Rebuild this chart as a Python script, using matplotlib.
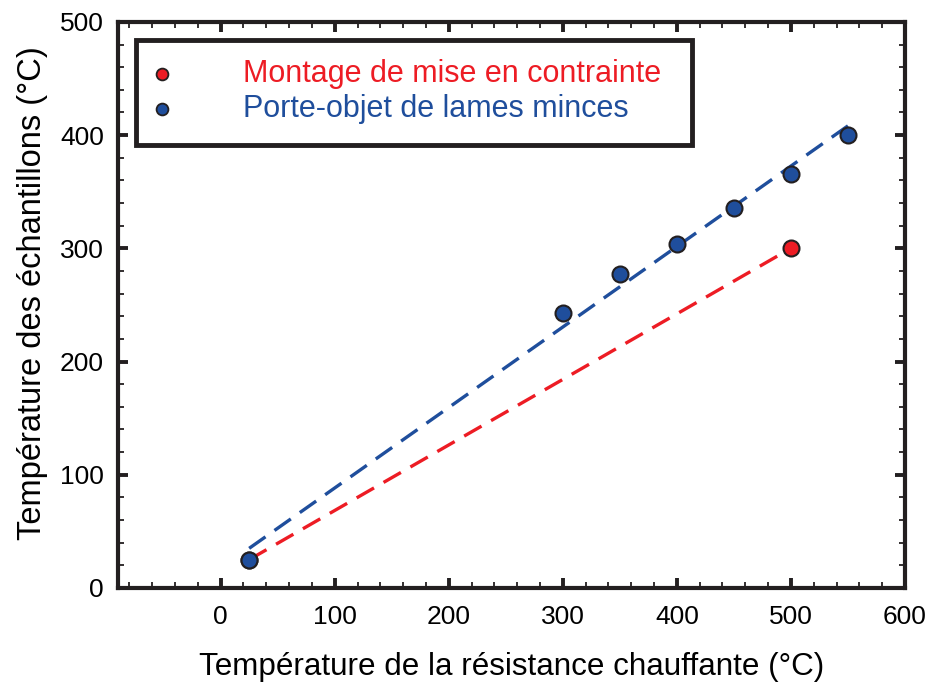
import numpy as np
import matplotlib.pyplot as plt
from matplotlib.patches import Rectangle
from matplotlib.ticker import MultipleLocator

plt.rcParams['font.family'] = ['Liberation Sans', 'DejaVu Sans']

# data
x_montage = [25, 500]
y_montage = [25, 300]
x_porte = [25, 300, 350, 400, 450, 500, 550]
y_porte = [25, 243, 277, 304, 336, 366, 400]
labels = ["Montage de mise en contrainte", "Porte-objet de lames minces"]

red = "#ED1C24"
blue = "#1F4E9C"
edge = "#231F20"

fig = plt.figure(figsize=(9.32, 6.84), dpi=100)
ax = fig.add_axes([0.1266, 0.1404, 0.8444, 0.8276])

# fitted dashed lines
p_r = np.polyfit(x_montage, y_montage, 1)
xr = np.array([min(x_montage), max(x_montage)])
ax.plot(xr, np.polyval(p_r, xr), color=red, lw=2.4, dashes=(6, 3.3), zorder=2)
p_b = np.polyfit(x_porte, y_porte, 1)
xb = np.array([min(x_porte), max(x_porte)])
ax.plot(xb, np.polyval(p_b, xb), color=blue, lw=2.4, dashes=(6, 3.3), zorder=2)

ax.plot(x_montage, y_montage, 'o', ms=11.5, mfc=red, mec=edge, mew=1.5, zorder=3)
ax.plot(x_porte, y_porte, 'o', ms=11.5, mfc=blue, mec=edge, mew=1.5, zorder=4)

ax.set_xlim(-90, 600)
ax.set_ylim(0, 500)
ax.xaxis.set_major_locator(MultipleLocator(100))
ax.xaxis.set_minor_locator(MultipleLocator(20))
ax.yaxis.set_major_locator(MultipleLocator(100))
ax.yaxis.set_minor_locator(MultipleLocator(20))
ax.tick_params(which='both', direction='in', top=True, right=True,
               color=edge, labelsize=19)
ax.tick_params(which='major', length=7, width=2.8, pad=10)
ax.tick_params(axis='x', which='major', pad=12)
ax.tick_params(which='minor', length=4, width=1.3)
for s in ax.spines.values():
    s.set_linewidth(3)
    s.set_color(edge)

ax.set_xlabel("Température de la résistance chauffante (°C)", fontsize=22.6)
ax.set_ylabel("Température des échantillons (°C)", fontsize=23.5)
ax.xaxis.set_label_coords(0.5, -0.113)
ax.yaxis.set_label_coords(-0.089, 0.52)

# legend box
ax.add_patch(Rectangle((0.023, 0.783), 0.706, 0.185, transform=ax.transAxes,
                       fc='white', ec=edge, lw=3.5, zorder=6))
for yy, lab, c in zip([0.908, 0.846], labels, [red, blue]):
    ax.plot([0.056], [yy], 'o', ms=8.5, mfc=c, mec=edge, mew=1.3,
            transform=ax.transAxes, zorder=7)
    ax.text(0.159, yy, lab, color=c, fontsize=22, va='center', ha='left',
            transform=ax.transAxes, zorder=7)

fig.savefig("out.png", dpi=100)
